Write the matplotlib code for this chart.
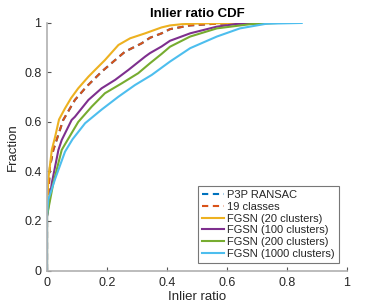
import matplotlib
matplotlib.use("Agg")
import matplotlib.pyplot as plt

plt.rcParams['font.family'] = ['Liberation Sans', 'DejaVu Sans']

# curves (inlier ratio, fraction)
labels = ["P3P RANSAC", "19 classes", "FGSN (20 clusters)", "FGSN (100 clusters)",
          "FGSN (200 clusters)", "FGSN (1000 clusters)"]

classes_x = [0, 0, 0.01, 0.021, 0.054, 0.093, 0.132, 0.182, 0.227, 0.26, 0.316, 0.343, 0.382, 0.41, 0.477, 0.55, 0.667]
classes_y = [0, 0.22, 0.42, 0.487, 0.608, 0.689, 0.743, 0.803, 0.85, 0.884, 0.918, 0.94, 0.958, 0.975, 0.99, 0.996, 1.0]

# P3P RANSAC is fully hidden under the 19 classes curve in the reference
p3p_x = classes_x
p3p_y = classes_y

c20_x = [0, 0, 0.004, 0.016, 0.027, 0.04, 0.06, 0.08, 0.104, 0.138, 0.16, 0.193, 0.238, 0.277, 0.327, 0.343, 0.382, 0.41, 0.45, 0.51, 0.6, 0.667]
c20_y = [0, 0.23, 0.366, 0.487, 0.54, 0.61, 0.655, 0.696, 0.736, 0.783, 0.81, 0.85, 0.911, 0.938, 0.958, 0.965, 0.982, 0.99, 0.995, 0.998, 0.999, 1.0]

c100_x = [0, 0, 0.016, 0.038, 0.049, 0.082, 0.093, 0.138, 0.182, 0.227, 0.271, 0.327, 0.343, 0.382, 0.41, 0.477, 0.566, 0.632, 0.75]
c100_y = [0, 0.22, 0.353, 0.487, 0.527, 0.608, 0.621, 0.689, 0.736, 0.77, 0.81, 0.864, 0.878, 0.905, 0.928, 0.958, 0.985, 0.996, 1.0]

c200_x = [0, 0, 0.021, 0.049, 0.06, 0.104, 0.149, 0.193, 0.249, 0.304, 0.343, 0.382, 0.41, 0.477, 0.566, 0.677, 0.77]
c200_y = [0, 0.22, 0.353, 0.487, 0.51, 0.6, 0.662, 0.716, 0.756, 0.797, 0.837, 0.875, 0.904, 0.945, 0.978, 0.995, 1.0]

c1000_x = [0, 0, 0.004, 0.027, 0.06, 0.085, 0.127, 0.182, 0.238, 0.293, 0.349, 0.41, 0.477, 0.566, 0.643, 0.732, 0.849]
c1000_y = [0, 0.22, 0.285, 0.37, 0.48, 0.53, 0.595, 0.65, 0.702, 0.749, 0.79, 0.844, 0.898, 0.945, 0.978, 0.997, 1.0]

colors = [(0, 0.447, 0.741), (0.85, 0.325, 0.098), (0.929, 0.694, 0.125),
          (0.494, 0.184, 0.556), (0.466, 0.674, 0.188), (0.301, 0.745, 0.933)]
styles = ['--', '--', '-', '-', '-', '-']
series = [(p3p_x, p3p_y), (classes_x, classes_y), (c20_x, c20_y),
          (c100_x, c100_y), (c200_x, c200_y), (c1000_x, c1000_y)]

fig = plt.figure(figsize=(3.81, 3.06), dpi=100)
ax = fig.add_axes([0.1234, 0.116, 0.7874, 0.809])

for (xs, ys), lab, col, ls in zip(series, labels, colors, styles):
    ax.plot(xs, ys, ls, color=col, lw=1.5, label=lab, dashes=(3, 2.2) if ls == '--' else (None, None))

ax.set_xlim(0, 1)
ax.set_ylim(0, 1)
ax.set_xticks([0, 0.2, 0.4, 0.6, 0.8, 1])
ax.set_xticklabels(['0', '0.2', '0.4', '0.6', '0.8', '1'])
ax.set_yticks([0, 0.2, 0.4, 0.6, 0.8, 1])
ax.set_yticklabels(['0', '0.2', '0.4', '0.6', '0.8', '1'])

for s in ['top', 'right']:
    ax.spines[s].set_visible(False)
for s in ['left', 'bottom']:
    ax.spines[s].set_color('#b0b0b0')
    ax.spines[s].set_linewidth(1.2)
ax.tick_params(direction='in', length=3, width=0.8, color='#555555',
               labelsize=9, labelcolor='#262626')
ax.tick_params(axis='x', pad=5)
ax.tick_params(axis='y', pad=4)

ax.set_xlabel('Inlier ratio', fontsize=9.5, color='#262626', labelpad=1)
ax.set_ylabel('Fraction', fontsize=9.5, color='#262626', labelpad=4)
ax.set_title('Inlier ratio CDF', fontsize=9.5, fontweight='bold', pad=4)

leg = ax.legend(loc='lower right', bbox_to_anchor=(0.973, 0.032), borderaxespad=0,
                fontsize=8, frameon=True, fancybox=False, handlelength=2.0,
                handletextpad=0.3, labelspacing=0.15, borderpad=0.35)
leg.get_frame().set_edgecolor('#555555')
leg.get_frame().set_linewidth(0.8)
for t in leg.get_texts():
    t.set_color('#262626')

fig.savefig('out.png', dpi=100)
